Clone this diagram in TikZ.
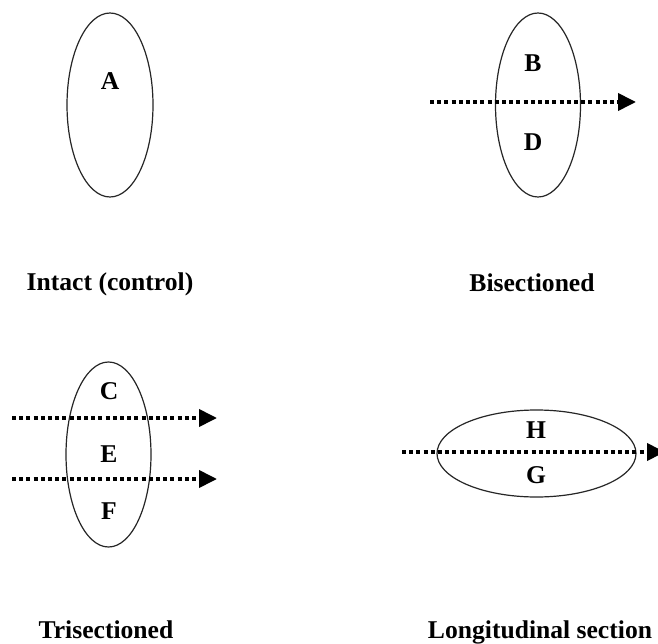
\documentclass[tikz,border=0pt]{standalone}
\usepackage{fontspec}
\setmainfont{Liberation Serif}
\usetikzlibrary{shapes.geometric,arrows.meta}
\tikzset{
  organ/.style={draw=black!85, line width=1.2pt, ellipse, inner sep=0pt},
  lbl/.style={anchor=base, inner sep=0pt, font=\fontsize{25.6}{30}\selectfont\bfseries},
  cut/.style={line width=3.8pt, dash pattern=on 4pt off 3.2pt,
     -{Triangle[length=18pt,width=17pt]}, shorten >=0pt}
}
\begin{document}
\begin{tikzpicture}[x=1pt,y=-1pt]
\fill[white] (0,0) rectangle (658,644);
\clip (0,0) rectangle (658,644);
% Intact
\node[organ, minimum width=86pt, minimum height=184pt] (eA) at (110,105) {};
\node[lbl] (A) at (110,90) {A};
\node[lbl] (capA) at (110,290) {Intact (control)};
% Bisectioned
\node[organ, minimum width=85pt, minimum height=184pt] (eB) at (538,105) {};
\node[lbl] (B) at (533,72) {B};
\node[lbl] (D) at (533,151) {D};
\coordinate (b1) at (430,102);
\coordinate (b2) at (636,102);
\draw[cut] (b1) -- (b2);
\node[lbl] (capB) at (532,291) {Bisectioned};
% Trisectioned
\node[organ, minimum width=85pt, minimum height=185pt] (eC) at (108.5,454.5) {};
\node[lbl] (C) at (109,399) {C};
\node[lbl] (E) at (109,462) {E};
\node[lbl] (F) at (109,519) {F};
\coordinate (t1) at (12,418);
\coordinate (t2) at (217,418);
\coordinate (t3) at (12,479);
\coordinate (t4) at (217,479);
\draw[cut] (t1) -- (t2);
\draw[cut] (t3) -- (t4);
\node[lbl] (capC) at (106,638) {Trisectioned};
% Longitudinal
\node[organ, minimum width=199pt, minimum height=87pt] (eH) at (536.5,453.5) {};
\node[lbl] (H) at (536,438) {H};
\node[lbl] (G) at (536,483) {G};
\coordinate (l1) at (402,452);
\coordinate (l2) at (665,452);
\draw[cut] (l1) -- (l2);
\node[lbl] (capH) at (540,638) {Longitudinal section};
\end{tikzpicture}
\end{document}
